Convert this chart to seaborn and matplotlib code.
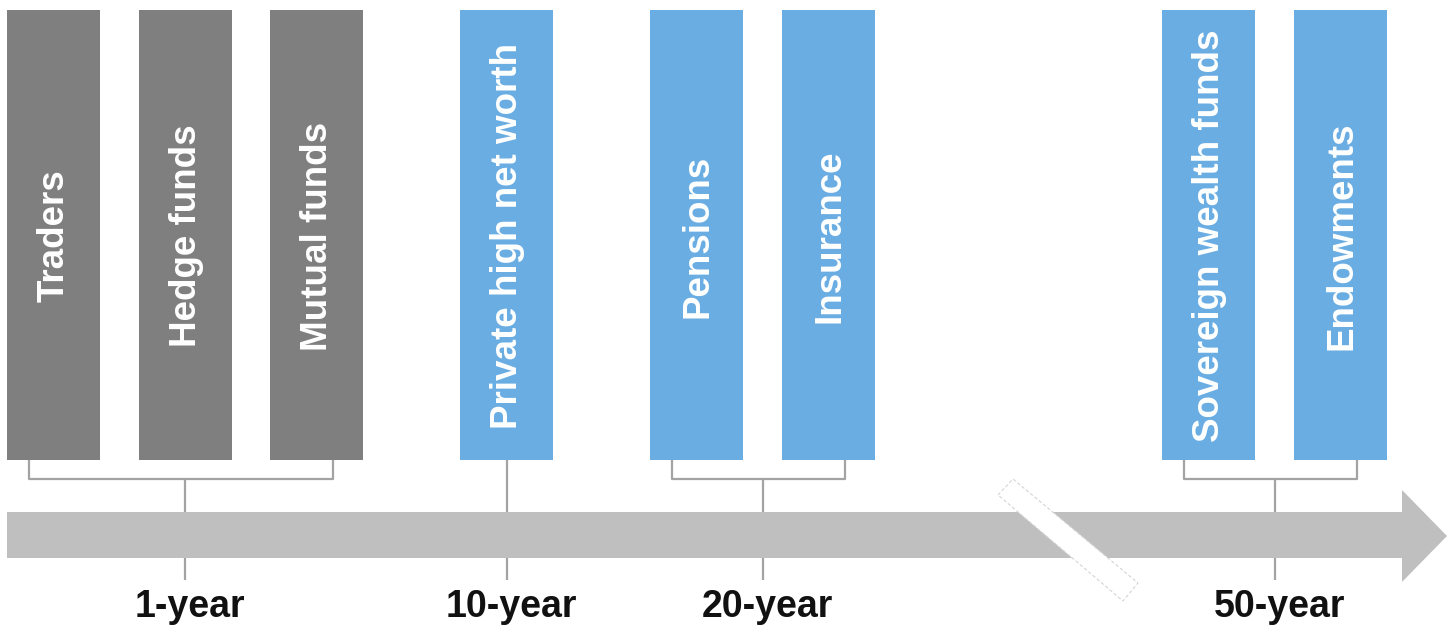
import numpy as np
import pandas as pd
import seaborn as sns
import matplotlib
matplotlib.use("Agg")
import matplotlib.pyplot as plt
from matplotlib.patches import Polygon

# ---- data ----
investors = ["Traders", "Hedge funds", "Mutual funds", "Private high net worth",
             "Pensions", "Insurance", "Sovereign wealth funds", "Endowments"]
horizon = ["1-year", "1-year", "1-year", "10-year",
           "20-year", "20-year", "50-year", "50-year"]
horizon_labels = ["1-year", "10-year", "20-year", "50-year"]
group = ["short", "short", "short", "long", "long", "long", "long", "long"]

# ---- layout (pixel units, y measured from top) ----
bar_x = [53.5, 185, 316.5, 506.5, 696.5, 828.5, 1208.5, 1340.5]
BAR_W = 93
BAR_TOP, BAR_BOT = 10, 460
ARROW_TOP, ARROW_BOT = 512, 558
W, H = 1455, 629

def Y(p):
    # pixel row -> data y (bars sit on y = 0)
    return BAR_BOT - p

sns.set_theme(style="white")
plt.rcParams["font.family"] = ["Liberation Sans", "DejaVu Sans"]

df = pd.DataFrame({"investor": investors, "horizon": horizon, "group": group,
                   "x": bar_x, "h": [BAR_BOT - BAR_TOP] * len(investors)})

fig = plt.figure(figsize=(W / 100, H / 100), dpi=100)
ax = fig.add_axes([0, 0, 1, 1])

width = BAR_W / np.diff(sorted(bar_x)).min()
sns.barplot(data=df, x="x", y="h", hue="group", native_scale=True,
            palette={"short": "#7f7f7f", "long": "#6aade3"}, saturation=1,
            width=width, errorbar=None, legend=False, linewidth=0, ax=ax)

for _, r in df.iterrows():
    ax.text(r["x"] + 1, Y(236), r["investor"], rotation=90, ha="center", va="center",
            color="white", fontsize=26.5, fontweight="bold")

# time arrow
arrow = [(7, ARROW_TOP), (1402, ARROW_TOP), (1402, 490), (1447, 536),
         (1402, 582), (1402, ARROW_BOT), (7, ARROW_BOT)]
ax.add_patch(Polygon([(x, Y(y)) for x, y in arrow], closed=True,
                     facecolor="#bfbfbf", edgecolor="none", zorder=2))
# break mark
brk = [(998, 495), (1013, 479), (1138, 583), (1123, 601)]
ax.add_patch(Polygon([(x, Y(y)) for x, y in brk], closed=True, facecolor="white",
                     edgecolor="#d4d4d4", linestyle=(0, (3, 2)), linewidth=0.8, zorder=3))

# brackets and ticks
line_kw = dict(color="#a3a3a3", linewidth=1.6, zorder=4, solid_capstyle="butt")
BRACKET_Y = 479
for lab in horizon_labels:
    idx = [i for i, h in enumerate(horizon) if h == lab]
    xs = [bar_x[i] for i in idx]
    cx = float(np.mean(xs))
    if len(idx) > 1:
        lx = xs[0] - BAR_W / 2 + 22
        rx = xs[-1] + BAR_W / 2 - 30
        ax.plot([lx, lx, rx, rx], [Y(BAR_BOT), Y(BRACKET_Y), Y(BRACKET_Y), Y(BAR_BOT)], **line_kw)
        top = BRACKET_Y
    else:
        top = BAR_BOT
    ax.plot([cx, cx], [Y(top), Y(ARROW_TOP)], **line_kw)
    ax.plot([cx, cx], [Y(ARROW_BOT), Y(580)], **line_kw)
    ax.text(cx + 5, Y(617), lab, ha="center", va="baseline", color="#111111",
            fontsize=27, fontweight="bold")

ax.set_xlim(0, W)
ax.set_ylim(Y(H), Y(0))
ax.axis("off")
fig.savefig("out.png", dpi=100)
